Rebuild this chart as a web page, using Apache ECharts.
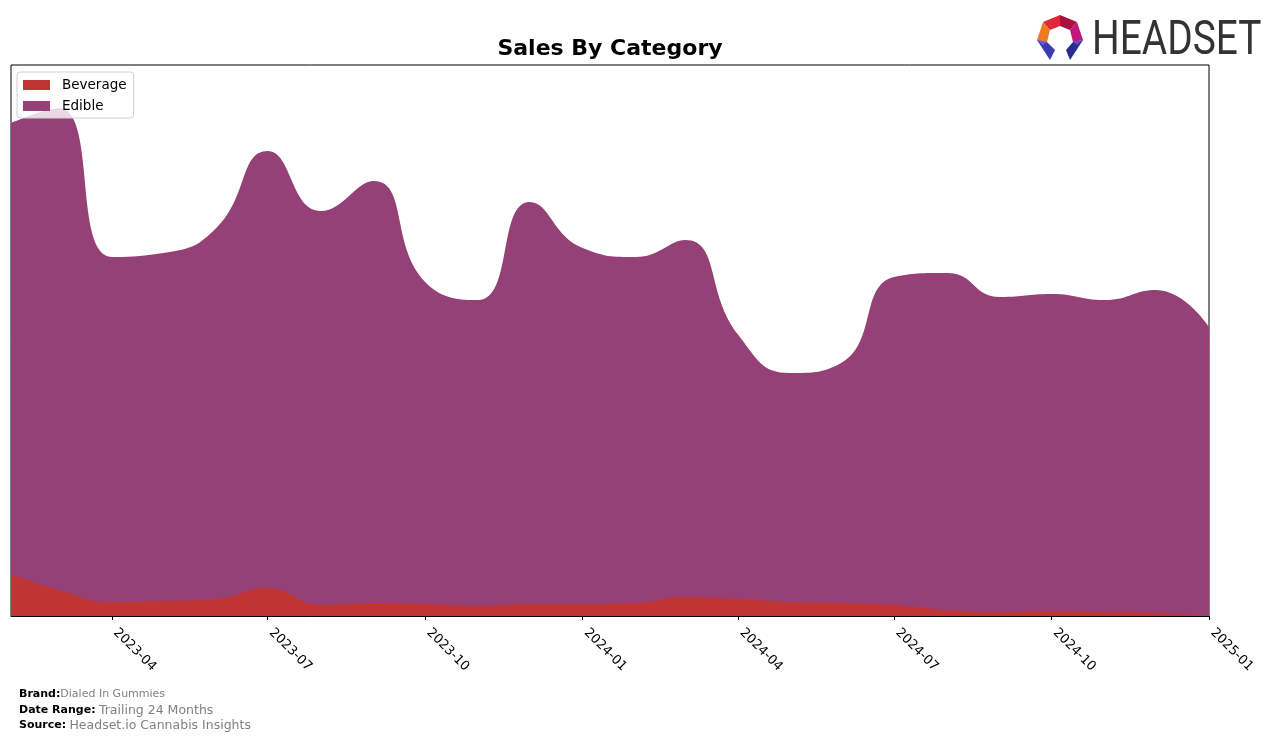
<!DOCTYPE html>
<html>
<head>
<meta charset="utf-8">
<script src="https://cdn.jsdelivr.net/npm/echarts@6/dist/echarts.min.js"></script>
<style>html,body{margin:0;padding:0;background:#fff}#c{width:1276px;height:740px}</style>
</head>
<body>
<div id="c"></div>
<script>
const months = ['2023-02-01','2023-03-01','2023-04-01','2023-05-01','2023-06-01','2023-07-01','2023-08-01','2023-09-01','2023-10-01','2023-11-01','2023-12-01','2024-01-01','2024-02-01','2024-03-01','2024-04-01','2024-05-01','2024-06-01','2024-07-01','2024-08-01','2024-09-01','2024-10-01','2024-11-01','2024-12-01','2025-01-01'];
const beverage = [42,26,14,15,17,28,11,13,12,10,12,12,13,19,17,14,13,11,6,4,5,4,3,0];
const edible = [451,482,345,348,371,437,394,422,322,306,402,356,346,357,264,229,241,328,337,315,317,312,323,289];
const tickLabels = ['2023-04-01','2023-07-01','2023-10-01','2024-01-01','2024-04-01','2024-07-01','2024-10-01','2025-01-01'];

const ts = s => new Date(s + 'T00:00:00Z').getTime();
const tickVals = tickLabels.map(ts);
// stacked top of Edible layer (Beverage + Edible)
const edibleTop = edible.map((v, i) => v + beverage[i]);
const chart = echarts.init(document.getElementById('c'), null, {renderer: 'canvas'});
const FONT = '"DejaVu Sans", sans-serif';

chart.setOption({
  animation: false,
  backgroundColor: '#ffffff',
  grid: {left: 11, right: 67, top: 65, bottom: 124, show: true, borderColor: '#000', borderWidth: 1, backgroundColor: 'transparent'},
  legend: {
    left: 17, top: 72, orient: 'vertical', icon: 'rect', itemWidth: 27, itemHeight: 10, itemGap: 7,
    padding: [6, 7, 5, 6],
    backgroundColor: 'rgba(255,255,255,0.8)', borderColor: '#d0d0d0', borderWidth: 1, borderRadius: 3,
    textStyle: {fontFamily: FONT, fontSize: 13.5, color: '#000', padding: [0, 0, 0, 7]},
    data: ['Beverage', 'Edible']
  },
  xAxis: {
    type: 'value', min: ts('2023-02-01'), max: ts('2025-01-01'),
    splitLine: {show: false},
    axisLine: {show: true, lineStyle: {color: '#000', width: 1}},
    axisTick: {show: true, length: 4, lineStyle: {color: '#000'}, customValues: tickVals},
    axisLabel: {
      customValues: tickVals, rotate: -45, margin: 11, padding: [0, 0, 0, 5], color: '#000', fontFamily: FONT, fontSize: 13,
      formatter: v => { const d = new Date(v); return d.getUTCFullYear() + '-' + String(d.getUTCMonth() + 1).padStart(2, '0'); }
    }
  },
  yAxis: {type: 'value', min: 0, max: 551, show: false, splitLine: {show: false}},
  series: [
    {name: 'Edible', type: 'line', smooth: 0.5, showSymbol: false, z: 2,
     lineStyle: {width: 0}, itemStyle: {color: '#964078'}, areaStyle: {color: '#964078', opacity: 1},
     data: months.map((m, i) => [ts(m), edibleTop[i]])},
    {name: 'Beverage', type: 'line', smooth: 0.5, showSymbol: false, z: 3,
     lineStyle: {width: 0}, itemStyle: {color: '#c13434'}, areaStyle: {color: '#c13434', opacity: 1},
     data: months.map((m, i) => [ts(m), beverage[i]])}
  ],
  graphic: [
    {type: 'text', x: 610, y: 38, style: {text: 'Sales By Category', font: 'bold 22px ' + FONT, fill: '#000', textAlign: 'center'}},
    {type: 'text', x: 19, y: 689, style: {
      text: '{b|Brand:}{v|Dialed In Gummies}',
      rich: {b: {font: 'bold 11px ' + FONT, fill: '#000'}, v: {font: '11px ' + FONT, fill: '#808080'}}}},
    {type: 'text', x: 19, y: 704, style: {
      text: '{b|Date Range:} {v|Trailing 24 Months}',
      rich: {b: {font: 'bold 11px ' + FONT, fill: '#000'}, v: {font: '12.5px ' + FONT, fill: '#808080'}}}},
    {type: 'text', x: 19, y: 719, style: {
      text: '{b|Source:} {v|Headset.io Cannabis Insights}',
      rich: {b: {font: 'bold 11px ' + FONT, fill: '#000'}, v: {font: '12.5px ' + FONT, fill: '#808080'}}}},
    {type: 'group', children: [
      {type: 'polygon', shape: {points: [[1043,22],[1060,15],[1060,26],[1050,30]]}, style: {fill: '#e3273a'}},
      {type: 'polygon', shape: {points: [[1060,15],[1077,22],[1070,30],[1060,26]]}, style: {fill: '#a8123c'}},
      {type: 'polygon', shape: {points: [[1077,22],[1083,40],[1073,42],[1070,30]]}, style: {fill: '#c0187c'}},
      {type: 'polygon', shape: {points: [[1043,22],[1050,30],[1047,42],[1037,40]]}, style: {fill: '#f07a22'}},
      {type: 'polygon', shape: {points: [[1037,40],[1047,42],[1055,50],[1050,60]]}, style: {fill: '#3b3ab0'}},
      {type: 'polygon', shape: {points: [[1037,40],[1047,42],[1043,45]]}, style: {fill: '#6a5cd8'}},
      {type: 'polygon', shape: {points: [[1083,40],[1073,42],[1066,50],[1070,60]]}, style: {fill: '#2c2c90'}},
      {type: 'polygon', shape: {points: [[1083,40],[1073,42],[1077,45]]}, style: {fill: '#5a50c8'}}
    ]},
    {type: 'text', x: 1092, y: 18, scaleX: 0.81, style: {text: 'HEADSET', font: '48px Roboto, "DejaVu Sans", sans-serif', fill: '#333333'}}
  ]
});
</script>
</body>
</html>
